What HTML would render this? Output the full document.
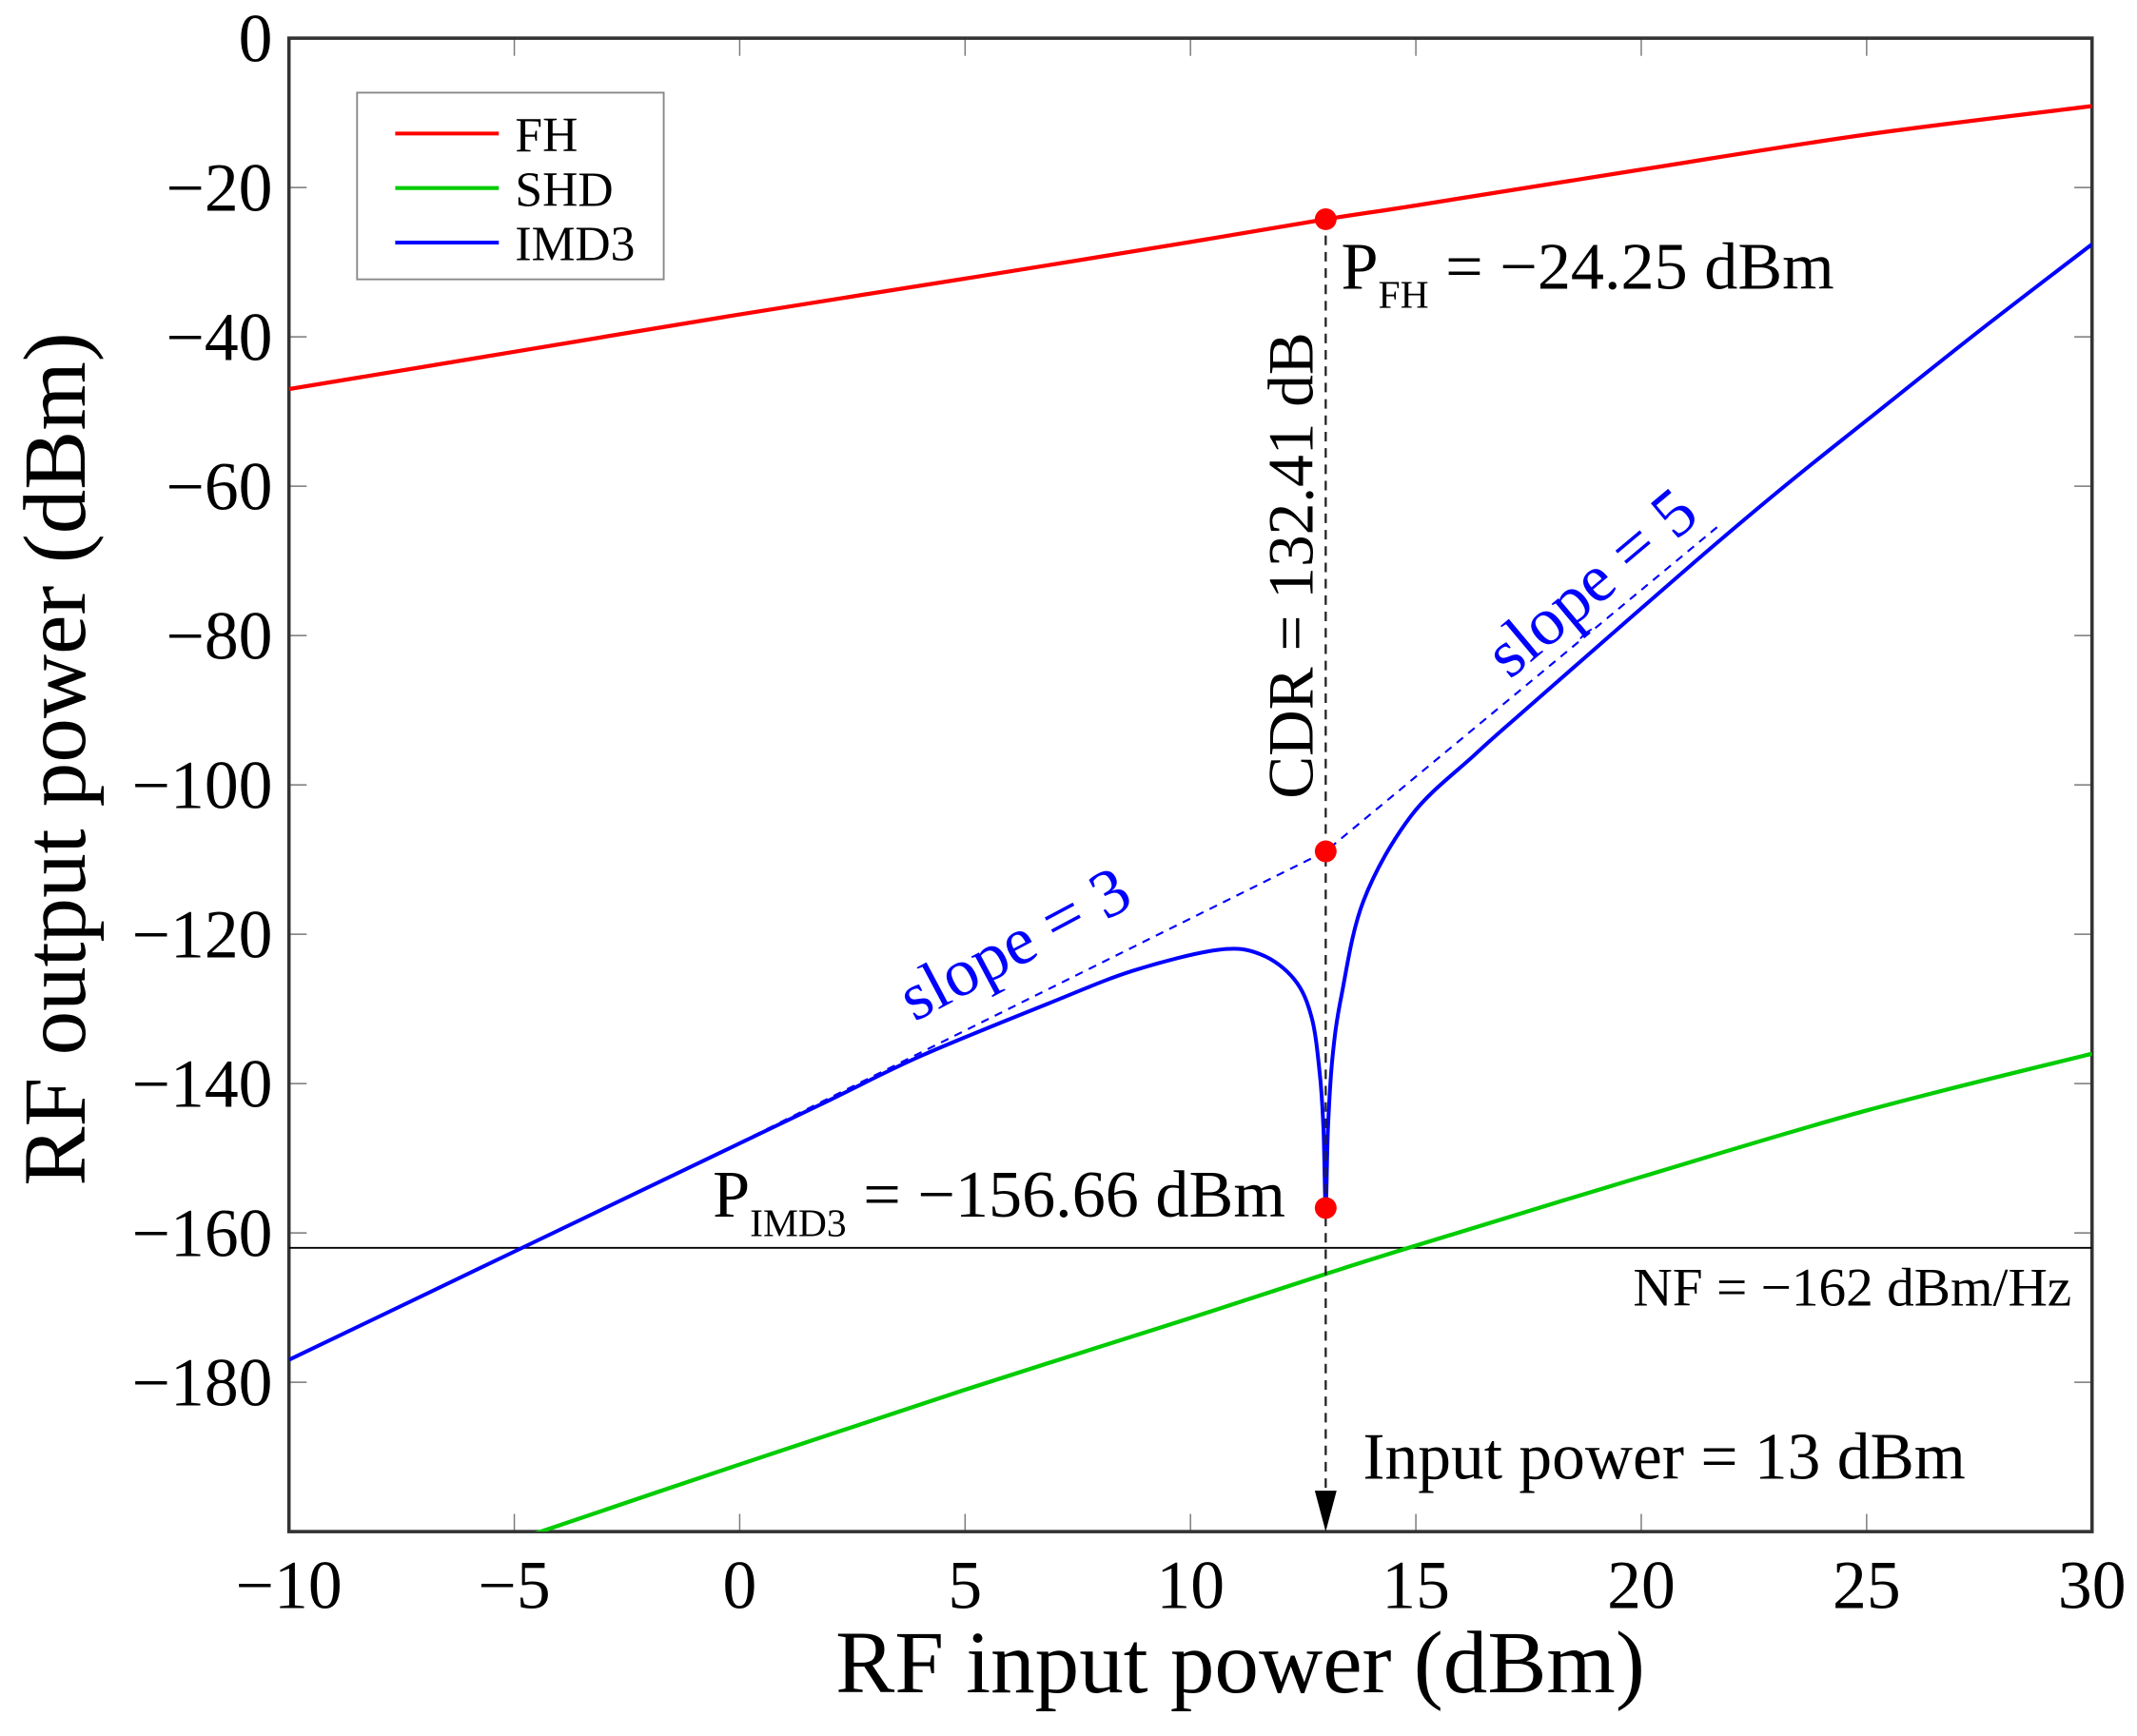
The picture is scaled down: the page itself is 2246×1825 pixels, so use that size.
<!DOCTYPE html>
<html><head><meta charset="utf-8"><style>
html,body{margin:0;padding:0;background:#fff}
svg{display:block}
text{font-family:"Liberation Serif","DejaVu Serif",serif;fill:#000}
</style></head><body>
<svg id="chart" width="2246" height="1825" viewBox="0 0 1568 1274" preserveAspectRatio="none" xmlns="http://www.w3.org/2000/svg">
<g id="grid"></g>
<g id="marks"></g>
<g id="annot"></g>
</svg>
<script>
const xTicks=[-10,-5,0,5,10,15,20,25,30];
const yTicks=[0,-20,-40,-60,-80,-100,-120,-140,-160,-180];
const fhX=[-10,-5,0,5,10,13,15,20,25,30];
const fhY=[-47,-42,-37,-32.2,-27.3,-24.25,-22.4,-17.6,-12.9,-9.1];
const shdX=[-5,0,5,10,13,15,20,25,30];
const shdY=[-201.2,-191,-181,-171.4,-165.5,-161.7,-152.5,-143.6,-136];
const imdX=[-10,-5,0,2,4.02,6.84,8.72,10.6,11.56,12.31,12.69,12.87,12.95,13,13.05,13.15,13.35,13.84,14.9,16.3,17.36,19.5,21.56,23.3,25.04,27.5,30];
const imdY=[-177,-162.5,-148,-142.2,-136.3,-129.3,-124.9,-122.1,-122.7,-126.1,-131.2,-138.8,-146,-156.66,-146,-136.5,-128.2,-115.5,-104.1,-96,-90.3,-79,-68.2,-59.4,-51,-39.2,-27.6];
const asymX=[0,13,21.7];
const asymY=[-147.9,-108.9,-65.4];
const opX=13, fhPt=-24.25, imdAsymPt=-108.9, imdPt=-156.66, nfLevel=-162;

const L=212,R=1535,T=28,B=1124;
const sx=v=>L+(v+10)/40*(R-L);
const sy=v=>T+(-v)/200*(B-T);
const NS='http://www.w3.org/2000/svg';
const FONT='"Liberation Serif","DejaVu Serif",serif';
function mk(tag,attrs,parent,txt){const e=document.createElementNS(NS,tag);for(const k in attrs)e.setAttribute(k,attrs[k]);if(txt!==undefined)e.textContent=txt;parent.appendChild(e);return e;}
const grid=document.getElementById('grid'),marks=document.getElementById('marks'),annot=document.getElementById('annot');

const defs=mk('defs',{},document.getElementById('chart'));
const cp=mk('clipPath',{id:'pc'},defs);mk('rect',{x:L,y:T,width:R-L,height:B-T},cp);
marks.setAttribute('clip-path','url(#pc)');

xTicks.forEach(v=>{
  const t=mk('line',{x1:sx(v),x2:sx(v),y1:B,y2:B-13,stroke:'#777','stroke-width':1},grid);
  
  
  const t2=mk('line',{x1:sx(v),x2:sx(v),y1:T,y2:T+13,stroke:'#777','stroke-width':1},grid);
  
  
  const lb=mk('text',{x:sx(v),y:1180,'font-size':50,'text-anchor':'middle','font-family':FONT},grid,v<0?'\u2212'+(-v):String(v));
  
  
});
yTicks.forEach(v=>{
  const t=mk('line',{x1:L,x2:L+13,y1:sy(v),y2:sy(v),stroke:'#777','stroke-width':1},grid);
  
  
  const t2=mk('line',{x1:R,x2:R-13,y1:sy(v),y2:sy(v),stroke:'#777','stroke-width':1},grid);
  
  
  const lb=mk('text',{x:200,y:sy(v)+17,'font-size':50,'text-anchor':'end','font-family':FONT},grid,v<0?'\u2212'+(-v):String(v));
  
  
});
const frame=mk('rect',{x:L,y:T,width:R-L,height:B-T,fill:'none',stroke:'#333','stroke-width':2.5},grid);


const xt=mk('text',{x:910,y:1242,'font-size':65,'text-anchor':'middle','font-family':FONT},grid,'RF input power (dBm)');


const yt=mk('text',{x:0,y:0,'font-size':65,'text-anchor':'middle','font-family':FONT,transform:'translate(62,557) rotate(-90)'},grid,'RF output power (dBm)');



function pathOf(xs,ys){return xs.map((x,i)=>(i?'L':'M')+sx(x).toFixed(2)+','+sy(ys[i]).toFixed(2)).join(' ');}
function smoothOf(xs,ys){
  const p=xs.map((x,i)=>[sx(x),sy(ys[i])]);
  let d='M'+p[0][0].toFixed(2)+','+p[0][1].toFixed(2);
  for(let i=0;i<p.length-1;i++){
    const p0=p[Math.max(0,i-1)],p1=p[i],p2=p[i+1],p3=p[Math.min(p.length-1,i+2)];
    let c1x=p1[0]+(p2[0]-p0[0])/6,c1y=p1[1]+(p2[1]-p0[1])/6;
    let c2x=p2[0]-(p3[0]-p1[0])/6,c2y=p2[1]-(p3[1]-p1[1])/6;
    c1x=Math.min(Math.max(c1x,p1[0]),p2[0]);c2x=Math.min(Math.max(c2x,p1[0]),p2[0]);
    d+=' C'+c1x.toFixed(2)+','+c1y.toFixed(2)+' '+c2x.toFixed(2)+','+c2y.toFixed(2)+' '+p2[0].toFixed(2)+','+p2[1].toFixed(2);
  }
  return d;
}

const nf=mk('line',{x1:L,x2:R,y1:sy(nfLevel),y2:sy(nfLevel),stroke:'#000','stroke-width':1.3},marks);


const asym=mk('path',{d:pathOf(asymX,asymY),fill:'none',stroke:'#0000ff','stroke-width':1.5,'stroke-dasharray':'6,5'},marks);


const fh=mk('path',{d:smoothOf(fhX,fhY),fill:'none',stroke:'#ff0000','stroke-width':3},marks);


const shd=mk('path',{d:smoothOf(shdX,shdY),fill:'none',stroke:'#00cc00','stroke-width':3},marks);


const imd=mk('path',{d:smoothOf(imdX,imdY),fill:'none',stroke:'#0000ff','stroke-width':2.8,'stroke-linejoin':'round'},marks);



const vl=mk('line',{x1:sx(opX),x2:sx(opX),y1:sy(fhPt),y2:B-28,stroke:'#222','stroke-width':1.6,'stroke-dasharray':'7,5'},annot);


const ah=mk('polygon',{points:`${sx(opX)-8},${B-30} ${sx(opX)+8},${B-30} ${sx(opX)},${B}`,fill:'#000'},annot);


[fhPt,imdAsymPt,imdPt].forEach(v=>{
  const c=mk('circle',{cx:sx(opX),cy:sy(v),r:8,fill:'#ff0000'},annot);
  
  
});
</script>
<svg style="position:absolute;left:0;top:0" width="2246" height="1825" viewBox="0 0 1568 1274" preserveAspectRatio="none" xmlns="http://www.w3.org/2000/svg">
<g>
<rect x="262" y="68" width="225" height="137" fill="#fff" stroke="#888" stroke-width="1.3"/>
<line x1="290" y1="98" x2="366" y2="98" stroke="#ff0000" stroke-width="2.8"/>
<line x1="290" y1="138" x2="366" y2="138" stroke="#00cc00" stroke-width="2.8"/>
<line x1="290" y1="178" x2="366" y2="178" stroke="#0000ff" stroke-width="2.8"/>
<text x="378" y="111" font-size="36">FH</text>
<text x="378" y="151" font-size="36">SHD</text>
<text x="378" y="191" font-size="36">IMD3</text>
</g>
<text x="984" y="212" font-size="49">P<tspan font-size="29" dy="14">FH</tspan><tspan dy="-14"> = −24.25 dBm</tspan></text>
<text x="523" y="893" font-size="49">P<tspan font-size="29" dy="14">IMD3</tspan><tspan dy="-14"> = −156.66 dBm</tspan></text>
<text x="0" y="0" font-size="47" text-anchor="middle" transform="translate(963,415) rotate(-90)">CDR = 132.41 dB</text>
<text x="0" y="0" font-size="50" text-anchor="middle" style="fill:#0000ff" transform="translate(752,707) rotate(-28)">slope = 3</text>
<text x="0" y="0" font-size="50" text-anchor="middle" style="fill:#0000ff" transform="translate(1178,440) rotate(-40)">slope = 5</text>
<text x="1520" y="958" font-size="40" text-anchor="end">NF = −162 dBm/Hz</text>
<text x="1000" y="1085" font-size="48.5">Input power = 13 dBm</text>
</svg>
</body></html>
